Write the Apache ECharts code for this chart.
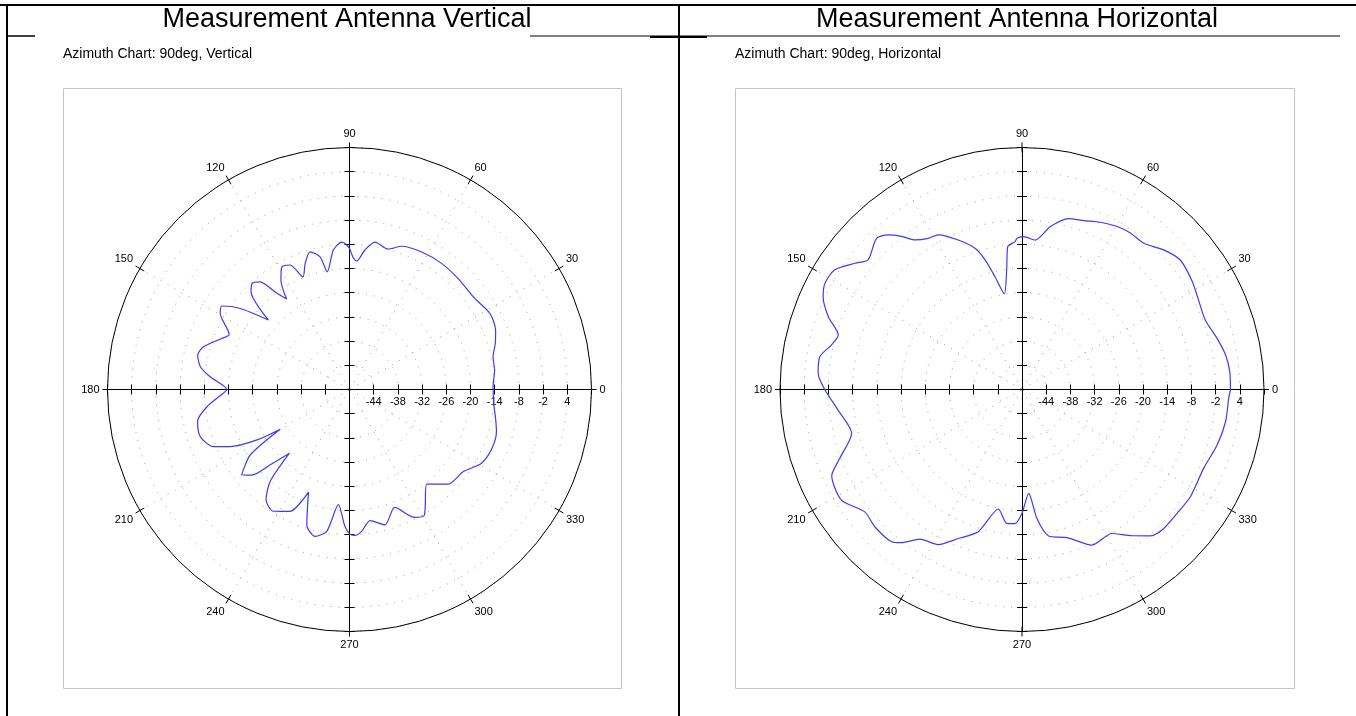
<!DOCTYPE html>
<html><head><meta charset="utf-8">
<script src="https://cdn.jsdelivr.net/npm/echarts@6/dist/echarts.min.js"></script>
<style>html,body{margin:0;padding:0;background:#fff}#c{width:1356px;height:716px}</style>
</head><body><div id="c"></div><script>
const titles = ['Measurement Antenna Vertical', 'Measurement Antenna Horizontal'];
const subtitles = ['Azimuth Chart: 90deg, Vertical', 'Azimuth Chart: 90deg, Horizontal'];
const radiusMin = -50, radiusMax = 10, radiusStep = 6;
const angleMin = 0, angleMax = 360, angleStep = 30;

const vertAngles = [0, 1.1, 7.6, 12.8, 17.5, 22.1, 28.5, 36, 45.6, 53.9, 62.3, 70, 74.6, 80.2, 83.7, 86.8, 88.5, 90, 91.8, 93, 96.6, 100.7, 102.5, 106, 109.4, 112.5, 115.5, 118.9, 122.1, 124.8, 127.3, 129.7, 132.6, 135.2, 139.4, 143.4, 146.8, 149.5, 155.4, 158.2, 163.7, 167.2, 171.3, 174.8, 180, 181.7, 186.9, 191.9, 197.5, 202.8, 205.6, 208.6, 209.8, 213.4, 218.4, 221.2, 223.5, 226.7, 229.2, 232.9, 238, 244, 248.2, 252.5, 256.8, 260.9, 264.5, 268, 270, 272, 274.9, 278.9, 284.7, 291, 297, 300.7, 309.2, 316.2, 324.2, 330.8, 336.9, 344, 348.9, 353.9, 360];
const vertDb = [-14.4, -14.4, -13.7, -13.5, -12.1, -10.9, -10.4, -11.6, -11.5, -11.3, -11.5, -12.2, -13.9, -12.9, -15.2, -18.1, -17.2, -15, -13.8, -13.4, -15.2, -20.3, -16.3, -14.5, -16.9, -19.8, -15.8, -15.3, -18, -22.7, -19.6, -15.3, -14.3, -15.6, -23.5, -16.3, -12.2, -12.8, -17.2, -15.9, -12.3, -11.4, -12.6, -15.3, -19.6, -18.7, -14.4, -11.5, -11.2, -13.4, -17.2, -23.9, -30.2, -20.5, -15.9, -17.8, -22.9, -28.3, -19.9, -15.7, -14.4, -16.4, -22.6, -14.8, -12.6, -14.4, -21.3, -16.2, -14.2, -13.8, -14.7, -17.1, -15.3, -18.7, -14.4, -13.7, -19.7, -16.1, -15.2, -12.5, -11.8, -12.1, -13.1, -14.0, -14.4];

const horizAngles = [0, 4.9, 9.6, 14.7, 20.8, 26.4, 32.4, 39.3, 44.6, 50.2, 55.3, 59.7, 64.9, 69.9, 74.7, 80.1, 84.9, 89.4, 91.9, 92.7, 95.7, 97.3, 100.5, 103.5, 105.9, 108.4, 113.1, 118.4, 121.8, 125.6, 128.2, 130.9, 133.9, 139.9, 142.9, 147.4, 151.7, 155, 159.4, 163.5, 166.8, 170.8, 175.5, 180, 186.4, 194.4, 200.7, 204.4, 211.5, 217.9, 223, 229.4, 231.8, 235.7, 241.6, 246.8, 252.9, 258.8, 263.5, 267, 270, 273.7, 276.6, 280.3, 286.9, 294.2, 302, 307, 311.3, 314.9, 321.4, 327.5, 336.6, 344.1, 351, 357.6, 360];
const horizDb = [1.7, 1.7, 1.2, 0, -1.4, -1.0, 0, 0.7, -0.7, -2.8, -2.8, -3.2, -4.2, -5.4, -6.1, -9.0, -12.8, -12.1, -12.5, -13.3, -14.4, -20.1, -25.9, -21.2, -16.6, -13.1, -9.7, -6.4, -5.9, -4.4, -1.7, 0.7, 2.0, -0.1, 1.9, 5.1, 5.5, 4.4, 1.3, -2.5, -1.5, 0.8, 0.7, -1.1, -4.1, -6.4, -1.7, 1.8, 2.5, -0.6, -0.1, -0.3, -1.7, -5.1, -6.3, -9.8, -13.1, -19.8, -16.6, -16.7, -19.3, -24.2, -17.8, -13.1, -11.6, -7.7, -7.9, -4.6, -1.7, -0.8, -0.8, -0.5, -0.9, 0.3, 1.1, 1.3, 1.7];

const FONT = '"Liberation Sans", Arial, Helvetica, sans-serif';
const chartData = [
  vertAngles.map((a, i) => [vertDb[i], a]),
  horizAngles.map((a, i) => [horizDb[i], a])
];

const centers = [349.5, 1022];
const CY = 389.5, R = 242;
const dotted = { color: '#9a9a9a', width: 1, type: [1, 7] };

const polar = [], angleAxis = [], radiusAxis = [], series = [];
centers.forEach((cx, c) => {
  [0, 90, 180, 270].forEach((sa, d) => {
    [1, -1].forEach((side) => {
      const idx = polar.length;
      const main = d === 0 && side === 1;
      polar.push({ center: [cx, CY], radius: R });
      angleAxis.push({
        polarIndex: idx, type: 'value', min: angleMin, max: angleMax, interval: angleStep,
        startAngle: sa, clockwise: false,
        axisLine: { show: main, lineStyle: { color: '#000', width: 1 } },
        axisTick: { show: d === 0, inside: side === -1, length: 5, lineStyle: { color: '#000', width: 1 } },
        axisLabel: { show: main, margin: 8, fontSize: 11, fontFamily: FONT, color: '#000',
          formatter: v => (v === 360 ? '' : String(v)) },
        splitLine: { show: main, lineStyle: dotted }
      });
      radiusAxis.push({
        polarIndex: idx, type: 'value', min: radiusMin, max: radiusMax, interval: radiusStep,
        axisLine: { show: true, lineStyle: { color: '#000', width: 1 } },
        axisTick: { show: true, length: 5 * side, lineStyle: { color: '#000', width: 1 } },
        axisLabel: { show: main, margin: -7, verticalAlign: 'top', fontSize: 11, fontFamily: FONT, color: '#000',
          showMinLabel: false, showMaxLabel: false,
          formatter: v => (v > radiusMin && v < radiusMax ? String(v) : '') },
        splitLine: { show: main, lineStyle: dotted }
      });
      if (main) {
        series.push({
          type: 'line', coordinateSystem: 'polar', polarIndex: idx,
          data: chartData[c], showSymbol: false, smooth: 0.25, silent: true,
          lineStyle: { color: '#3b3bff', width: 1.2 }, z: 5
        });
      }
    });
  });
});

const line = (x1, y1, x2, y2, w) => ({ type: 'line', shape: { x1, y1, x2, y2 }, style: { stroke: '#000', lineWidth: w }, z: 10 });
const graphic = [
  line(0, 5, 1356, 5, 2),
  line(7, 4, 7, 716, 2),
  line(679, 4, 679, 716, 2),
  line(7, 36, 35, 36, 1.5),
  line(530, 36, 1340, 36, 1),
  line(650, 37, 707, 37, 2),
  { type: 'rect', shape: { x: 63.5, y: 88.5, width: 558, height: 600 }, style: { fill: 'none', stroke: '#c4c4c4', lineWidth: 1 }, z: 1 },
  { type: 'rect', shape: { x: 735.5, y: 88.5, width: 559, height: 600 }, style: { fill: 'none', stroke: '#c4c4c4', lineWidth: 1 }, z: 1 },
  { type: 'text', x: 347, y: 20, style: { text: titles[0], font: '27px ' + FONT, fill: '#000', align: 'center', verticalAlign: 'middle' }, z: 10 },
  { type: 'text', x: 1017, y: 20, style: { text: titles[1], font: '27px ' + FONT, fill: '#000', align: 'center', verticalAlign: 'middle' }, z: 10 },
  { type: 'text', x: 63, y: 54, style: { text: subtitles[0], font: '14px ' + FONT, fill: '#000', align: 'left', verticalAlign: 'middle' }, z: 10 },
  { type: 'text', x: 735, y: 54, style: { text: subtitles[1], font: '14px ' + FONT, fill: '#000', align: 'left', verticalAlign: 'middle' }, z: 10 }
];

const chart = echarts.init(document.getElementById('c'), null, { renderer: 'canvas' });
chart.setOption({
  animation: false,
  backgroundColor: '#fff',
  polar, angleAxis, radiusAxis, series, graphic
});
</script></body></html>
